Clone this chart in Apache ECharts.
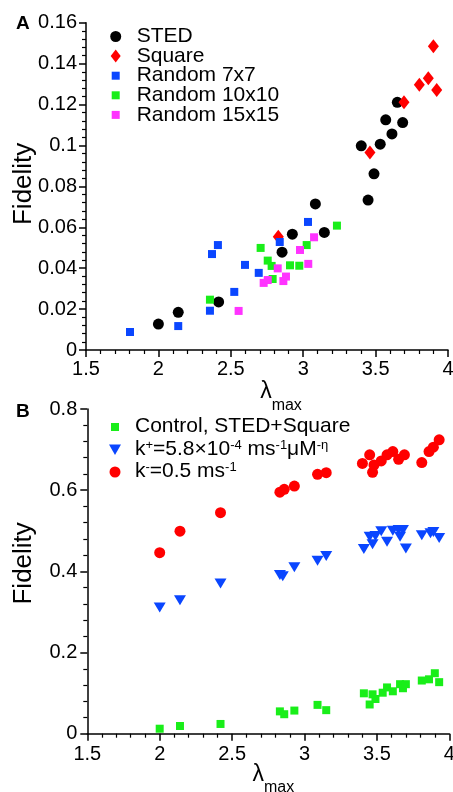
<!DOCTYPE html>
<html><head><meta charset="utf-8">
<script src="https://cdn.jsdelivr.net/npm/echarts@6/dist/echarts.min.js"></script>
<style>html,body{margin:0;padding:0;background:#fff}#c{width:453px;height:792px}</style>
</head><body><div id="c"></div>
<script>
// ---- Panel A data: [lambda_max, fidelity]
const sted = [[2.00,0.0127],[2.137,0.0184],[2.416,0.0235],[2.854,0.0478],[2.925,0.0566],[3.084,0.0714],[3.146,0.0575],[3.448,0.0733],[3.401,0.0998],[3.489,0.0861],[3.532,0.1006],[3.570,0.1125],[3.613,0.1056],[3.650,0.1211],[3.687,0.1112]];
const square = [[2.828,0.0554],[3.461,0.0965],[3.696,0.1211],[3.802,0.1297],[3.864,0.1329],[3.899,0.1485],[3.922,0.1271]];
const random7 = [[1.804,0.0088],[2.137,0.0117],[2.356,0.0192],[2.370,0.0469],[2.411,0.0513],[2.524,0.0284],[2.598,0.0416],[2.693,0.0377],[2.838,0.0528],[3.033,0.0626]];
const random10 = [[2.356,0.0246],[2.706,0.0499],[2.755,0.0437],[2.782,0.0411],[2.789,0.0347],[2.909,0.0414],[2.973,0.0412],[3.024,0.0513],[3.233,0.0608]];
const random15 = [[2.554,0.0191],[2.727,0.0328],[2.755,0.0342],[2.824,0.0399],[2.863,0.0337],[2.881,0.0359],[2.978,0.0489],[3.035,0.0421],[3.075,0.0551]];
// ---- Panel B data
const control = [[2.00,0.0123],[2.14,0.019],[2.42,0.024],[2.83,0.055],[2.86,0.048],[2.93,0.057],[3.09,0.071],[3.15,0.058],[3.41,0.0995],[3.45,0.072],[3.47,0.097],[3.49,0.0855],[3.54,0.101],[3.57,0.114],[3.61,0.1045],[3.66,0.122],[3.68,0.112],[3.70,0.122],[3.81,0.131],[3.86,0.134],[3.90,0.149],[3.93,0.127]];
const kPlus = [[2.00,0.311],[2.14,0.329],[2.42,0.370],[2.83,0.391],[2.85,0.388],[2.93,0.410],[3.09,0.426],[3.15,0.438],[3.41,0.455],[3.45,0.485],[3.47,0.467],[3.49,0.487],[3.53,0.499],[3.57,0.473],[3.61,0.500],[3.65,0.502],[3.66,0.485],[3.68,0.502],[3.70,0.456],[3.81,0.489],[3.87,0.494],[3.89,0.497],[3.93,0.482]];
const kMinus = [[2.00,0.446],[2.14,0.499],[2.42,0.5445],[2.83,0.595],[2.86,0.602],[2.93,0.610],[3.09,0.639],[3.15,0.643],[3.40,0.666],[3.45,0.687],[3.47,0.644],[3.48,0.662],[3.53,0.672],[3.57,0.687],[3.61,0.695],[3.65,0.676],[3.69,0.687],[3.81,0.668],[3.86,0.695],[3.89,0.706],[3.93,0.724]];
// ---- Tick labels
const xTicks = [1.5, 2, 2.5, 3, 3.5, 4];
const yTicksA = [0, 0.02, 0.04, 0.06, 0.08, 0.1, 0.12, 0.14, 0.16];
const yTicksB = [0, 0.2, 0.4, 0.6, 0.8];
// ---- Legend names
const namesA = ['STED', 'Square', 'Random 7x7', 'Random 10x10', 'Random 15x15'];
const namesB = ['Control, STED+Square', 'k+=5.8×10-4 ms-1μM-η', 'k-=0.5 ms-1'];

const FONT = '"Liberation Sans", Arial, sans-serif';
const C = {black:'#000000', red:'#ff0000', blue:'#0a46ff', green:'#19ee19', magenta:'#ff33ff'};

function xAxisOpt(gi, gap, margin, padLeft, subPad) {
  return {
    type:'value', gridIndex:gi, min:xTicks[0], max:xTicks[xTicks.length-1], interval:xTicks[1]-xTicks[0],
    axisLine:{show:true, onZero:false, lineStyle:{color:'#000', width:1.5}},
    axisTick:{show:true, length:7, lineStyle:{color:'#000', width:1.5}},
    minorTick:{show:true, splitNumber:5, length:4, lineStyle:{color:'#000', width:1.2}},
    splitLine:{show:false},
    axisLabel:{color:'#000', fontSize:20, fontFamily:FONT, margin:margin},
    name:'{l|λ}{s|max}', nameLocation:'middle', nameGap:gap, nameMoveOverlap:false,
    nameTextStyle:{padding:[0,0,0,padLeft], rich:{
      l:{fontSize:23, lineHeight:23, fontFamily:FONT, color:'#000'},
      s:{fontSize:16, lineHeight:15, padding:[subPad,0,0,0], fontFamily:FONT, color:'#000'}
    }}
  };
}
function yAxisOpt(gi, ticks, gap, margin, padLeft) {
  return {
    type:'value', gridIndex:gi, min:ticks[0], max:ticks[ticks.length-1], interval:ticks[1]-ticks[0],
    axisLine:{show:true, onZero:false, lineStyle:{color:'#000', width:1.5}},
    axisTick:{show:true, length:7, lineStyle:{color:'#000', width:1.5}},
    minorTick:{show:true, splitNumber:5, length:4, lineStyle:{color:'#000', width:1.2}},
    splitLine:{show:false},
    axisLabel:{color:'#000', fontSize:20, fontFamily:FONT, margin:margin},
    name:'Fidelity', nameLocation:'middle', nameGap:gap, nameMoveOverlap:false,
    nameTextStyle:{fontSize:26, fontFamily:FONT, color:'#000', padding:[0,0,0,padLeft]}
  };
}
function sc(name, data, gi, symbol, size, color, rotate) {
  return {type:'scatter', name:name, data:data, xAxisIndex:gi, yAxisIndex:gi,
    symbol:symbol, symbolSize:size, symbolRotate:rotate||0,
    itemStyle:{color:color, opacity:1}, emphasis:{disabled:true}, silent:true, animation:false};
}

const icA = [
  'path://M0,0M23,14M1.5,7a5.5,5.5 0 1 0 11,0a5.5,5.5 0 1 0 -11,0z',
  'path://M0,0M23,14M7,0.5L12,7L7,13.5L2,7z',
  'path://M0,0M23,14M3,3h8v8h-8z',
  'path://M0,0M23,14M3,3h8v8h-8z',
  'path://M0,0M23,14M3,3h8v8h-8z'
];
const icB = [
  'path://M0,0M22,14M3,3h8v8h-8z',
  'path://M0,0M22,14M1,2h12L7,12.5z',
  'path://M0,0M22,14M1.5,7a5.5,5.5 0 1 0 11,0a5.5,5.5 0 1 0 -11,0z'
];
const richB = {
  t:{fontSize:21, lineHeight:22, verticalAlign:'top', fontFamily:FONT, color:'#000'},
  p:{fontSize:13, lineHeight:13, verticalAlign:'top', fontFamily:FONT, color:'#000'}
};
const fmtB = {};
fmtB[namesB[0]] = '{t|Control, STED+Square}';
fmtB[namesB[1]] = '{t|k}{p|+}{t|=5.8×10}{p|-4}{t| ms}{p|-1}{t|μM}{p|-η}';
fmtB[namesB[2]] = '{t|k}{p|-}{t|=0.5 ms}{p|-1}';

const option = {
  backgroundColor:'#fff',
  animation:false,
  title:[
    {text:'A', left:11, top:9, textStyle:{fontSize:19, fontWeight:'bold', fontFamily:FONT, color:'#000'}},
    {text:'B', left:11, top:397, textStyle:{fontSize:19, fontWeight:'bold', fontFamily:FONT, color:'#000'}}
  ],
  grid:[
    {left:86, top:22.7, width:362, height:327.3, outerBoundsMode:'none', containLabel:false},
    {left:87.3, top:409, width:362, height:324.7, outerBoundsMode:'none', containLabel:false}
  ],
  xAxis:[xAxisOpt(0, 30, 9.5, 28, 29), xAxisOpt(1, 29.3, 11, 10, 27)],
  yAxis:[yAxisOpt(0, yTicksA, 49, 9, 5), yAxisOpt(1, yTicksB, 50, 10, 16)],
  legend:[
    {orient:'vertical', left:108.7, top:26, padding:0, itemWidth:23, itemHeight:14, itemGap:-1.4, selectedMode:false,
     textStyle:{fontSize:21, lineHeight:19.3, fontFamily:FONT, color:'#000'},
     data:namesA.map((n,i)=>({name:n, icon:icA[i]}))},
    {orient:'vertical', left:108, top:416, padding:0, itemWidth:22, itemHeight:14, itemGap:1.5, selectedMode:false,
     formatter:function(n){return fmtB[n];},
     textStyle:{fontSize:21, fontFamily:FONT, color:'#000', rich:richB},
     data:namesB.map((n,i)=>({name:n, icon:icB[i]}))}
  ],
  series:[
    sc(namesA[0], sted, 0, 'circle', 11, C.black),
    sc(namesA[1], square, 0, 'diamond', [11,14], C.red),
    sc(namesA[2], random7, 0, 'rect', 8, C.blue),
    sc(namesA[3], random10, 0, 'rect', 8, C.green),
    sc(namesA[4], random15, 0, 'rect', 8, C.magenta),
    sc(namesB[0], control, 1, 'rect', 8, C.green),
    sc(namesB[1], kPlus, 1, 'triangle', [12,10], C.blue, 180),
    sc(namesB[2], kMinus, 1, 'circle', 11, C.red)
  ]
};
const chart = echarts.init(document.getElementById('c'), null, {renderer:'canvas'});
chart.setOption(option);
</script>
</body></html>
